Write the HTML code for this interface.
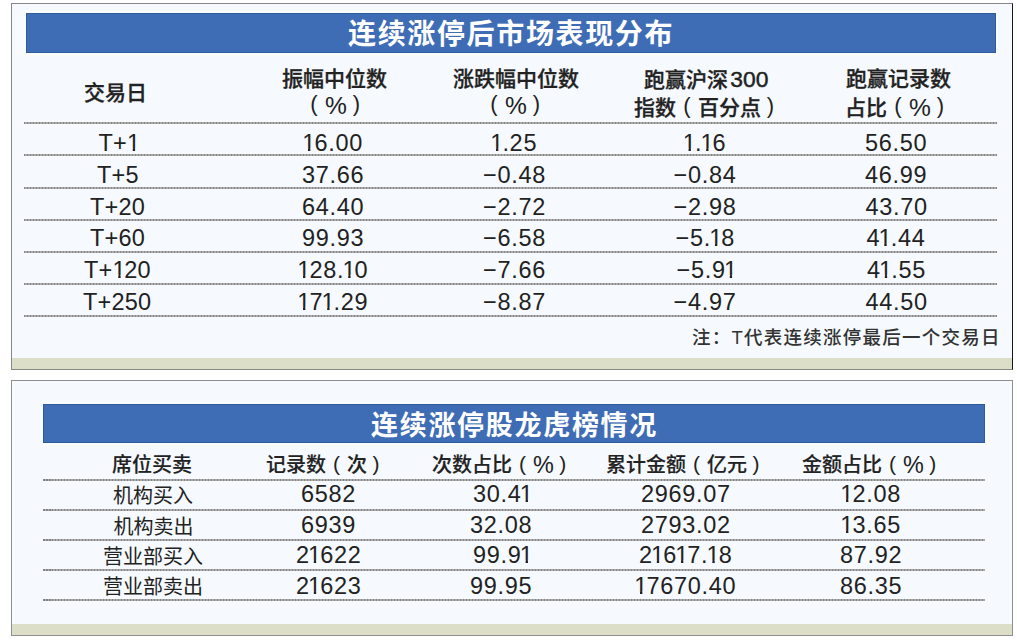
<!DOCTYPE html>
<html lang="zh-CN">
<head>
<meta charset="utf-8">
<title>连续涨停后市场表现分布</title>
<style>
*{margin:0;padding:0;box-sizing:border-box}
html,body{width:1017px;height:641px;overflow:hidden;background:#fff}
body{position:relative;text-spacing-trim:space-all;font-family:"Liberation Sans","Noto Sans CJK SC",sans-serif;color:#222}
.panel{position:absolute;left:11px;width:1002px;border:1px solid #858585;background:#f6fafe}
.p1{top:3px;height:367px;border-color:#878787;border-right-color:#151515}
.p2{top:380px;height:256px;border-color:#8e8e8e}
.band{position:absolute;left:0;right:0;bottom:0;height:11px;background:#dcdec8}
.bar{position:absolute;background:#3f6db5;border:1px solid #2f5a9c;box-shadow:0 0 3px 1px #fdfeff}
.title{position:absolute;color:#fff;font-family:"Noto Sans CJK SC",sans-serif;font-weight:700;white-space:nowrap;line-height:1}
.line{position:absolute;height:2px;background:repeating-linear-gradient(90deg,#858585 0 1.5px,#ababab 1.5px 3px)}
.t{position:absolute;white-space:nowrap;line-height:1}
.h{font-weight:500;font-size:21px;color:#222;-webkit-text-stroke:0.3px #222}
.n{font-family:"Liberation Sans",sans-serif;font-size:23.5px;letter-spacing:0.7px;color:#222}
.n0{letter-spacing:0.2px}
.n0 .one{margin-left:0}
.note{font-weight:500;font-size:18.5px;letter-spacing:1.25px;color:#333}
.h2{font-weight:500;font-size:20px;color:#222;-webkit-text-stroke:0.15px #222}
.m{font-weight:400;font-size:20px;color:#222}
.one{display:inline-block;margin-left:-0.075em;margin-right:-0.07em;clip-path:polygon(0 0,100% 0,100% 0.70em,0.347em 0.70em,0.347em 100%,0.245em 100%,0.245em 0.70em,0 0.70em)}
.lp,.rp{display:inline-block;width:1em;text-align:center;font-family:"Liberation Sans",sans-serif;font-weight:400;font-size:1.05em;line-height:0;position:relative;top:-0.07em;-webkit-text-stroke:0}
.rp{width:0.92em;padding-right:0.06em}
.pc{-webkit-text-stroke:0;font-family:"Liberation Sans",sans-serif;font-weight:400;font-size:1.17em;line-height:0;position:relative;top:0.03em}
.d3{-webkit-text-stroke:0.45px #222;font-family:"Liberation Sans",sans-serif;font-weight:400;font-size:1.09em;line-height:0;margin-left:0.1em}
</style>
</head>
<body>
<div class="panel p1"><div class="band"></div></div>
<div class="panel p2"><div class="band"></div></div>

<div class="bar" style="left:26px;top:13px;width:970px;height:40px"></div>
<div class="title" id="title1" style="left:348px;top:18px;font-size:28px;letter-spacing:1.65px">连续涨停后市场表现分布</div>

<div class="line" style="left:24px;top:122px;width:973px"></div>
<div class="line" style="left:24px;top:154px;width:973px"></div>
<div class="line" style="left:24px;top:187px;width:973px"></div>
<div class="line" style="left:24px;top:219px;width:973px"></div>
<div class="line" style="left:24px;top:251px;width:973px"></div>
<div class="line" style="left:24px;top:283px;width:973px"></div>
<div class="line" style="left:24px;top:315px;width:973px"></div>

<div class="bar" style="left:43px;top:404px;width:942px;height:39px"></div>
<div class="title" id="title2" style="left:371px;top:410px;font-size:27px;letter-spacing:1.7px">连续涨停股龙虎榜情况</div>

<div class="line" style="left:43px;top:479px;width:942px"></div>
<div class="line" style="left:43px;top:509px;width:942px"></div>
<div class="line" style="left:43px;top:539px;width:942px"></div>
<div class="line" style="left:43px;top:569px;width:942px"></div>
<div class="line" style="left:43px;top:599px;width:942px"></div>

<div id="h1" class="t h" style="left:84.0px;top:82.0px;">交易日</div>
<div id="h2a" class="t h" style="left:282.0px;top:68.0px;">振幅中位数</div>
<div id="h2b" class="t h" style="left:303.0px;top:95.0px;"><span class="lp">(</span><span class="pc">%</span><span class="rp">)</span></div>
<div id="h3a" class="t h" style="left:453.0px;top:68.0px;">涨跌幅中位数</div>
<div id="h3b" class="t h" style="left:483.0px;top:95.0px;"><span class="lp">(</span><span class="pc">%</span><span class="rp">)</span></div>
<div id="h4a" class="t h" style="left:644.0px;top:69.0px;">跑赢沪深<span class="d3">300</span></div>
<div id="h4b" class="t h" style="left:634.0px;top:97.0px;">指数<span class="lp">(</span>百分点<span class="rp">)</span></div>
<div id="h5a" class="t h" style="left:846.0px;top:68.0px;">跑赢记录数</div>
<div id="h5b" class="t h" style="left:845.0px;top:97.0px;">占比<span class="lp">(</span><span class="pc">%</span><span class="rp">)</span></div>
<div id="a00" class="t n n0" style="left:98.5px;top:132.1px;">T+<span class="one">1</span></div>
<div id="a01" class="t n" style="left:304.0px;top:132.1px;"><span class="one">1</span>6.00</div>
<div id="a02" class="t n" style="left:492.0px;top:132.1px;"><span class="one">1</span>.25</div>
<div id="a03" class="t n" style="left:684.5px;top:132.1px;"><span class="one">1</span>.<span class="one">1</span>6</div>
<div id="a04" class="t n" style="left:865.0px;top:132.1px;">56.50</div>
<div id="a10" class="t n n0" style="left:97.0px;top:163.9px;">T+5</div>
<div id="a11" class="t n" style="left:302.0px;top:163.9px;">37.66</div>
<div id="a12" class="t n" style="left:483.0px;top:163.9px;">−0.48</div>
<div id="a13" class="t n" style="left:673.5px;top:163.9px;">−0.84</div>
<div id="a14" class="t n" style="left:865.0px;top:163.9px;">46.99</div>
<div id="a20" class="t n n0" style="left:90.0px;top:196.0px;">T+20</div>
<div id="a21" class="t n" style="left:302.0px;top:196.0px;">64.40</div>
<div id="a22" class="t n" style="left:483.0px;top:196.0px;">−2.72</div>
<div id="a23" class="t n" style="left:673.5px;top:196.0px;">−2.98</div>
<div id="a24" class="t n" style="left:865.5px;top:196.0px;">43.70</div>
<div id="a30" class="t n n0" style="left:90.0px;top:227.4px;">T+60</div>
<div id="a31" class="t n" style="left:302.0px;top:227.4px;">99.93</div>
<div id="a32" class="t n" style="left:483.0px;top:227.4px;">−6.58</div>
<div id="a33" class="t n" style="left:675.5px;top:227.4px;">−5.<span class="one">1</span>8</div>
<div id="a34" class="t n" style="left:866.5px;top:227.4px;">4<span class="one">1</span>.44</div>
<div id="a40" class="t n n0" style="left:84.0px;top:258.6px;">T+<span class="one">1</span>20</div>
<div id="a41" class="t n" style="left:299.0px;top:258.6px;"><span class="one">1</span>28.<span class="one">1</span>0</div>
<div id="a42" class="t n" style="left:483.0px;top:258.6px;">−7.66</div>
<div id="a43" class="t n" style="left:676.5px;top:258.6px;">−5.9<span class="one">1</span></div>
<div id="a44" class="t n" style="left:867.0px;top:258.6px;">4<span class="one">1</span>.55</div>
<div id="a50" class="t n n0" style="left:83.0px;top:290.7px;">T+250</div>
<div id="a51" class="t n" style="left:299.0px;top:290.7px;"><span class="one">1</span>7<span class="one">1</span>.29</div>
<div id="a52" class="t n" style="left:483.0px;top:290.7px;">−8.87</div>
<div id="a53" class="t n" style="left:673.5px;top:290.7px;">−4.97</div>
<div id="a54" class="t n" style="left:865.5px;top:290.7px;">44.50</div>
<div id="note" class="t note" style="left:692.0px;top:329.0px;">注：T代表连续涨停最后一个交易日</div>
<div id="g1" class="t h2" style="left:112.0px;top:455.0px;">席位买卖</div>
<div id="g2" class="t h2" style="left:266.0px;top:455.0px;">记录数<span class="lp">(</span>次<span class="rp">)</span></div>
<div id="g3" class="t h2" style="left:432.0px;top:455.0px;">次数占比<span class="lp">(</span><span class="pc">%</span><span class="rp">)</span></div>
<div id="g4" class="t h2" style="left:606.0px;top:455.0px;">累计金额<span class="lp">(</span>亿元<span class="rp">)</span></div>
<div id="g5" class="t h2" style="left:802.0px;top:455.0px;">金额占比<span class="lp">(</span><span class="pc">%</span><span class="rp">)</span></div>
<div id="b00" class="t m" style="left:113.0px;top:486.0px;">机构买入</div>
<div id="b01" class="t n" style="left:301.0px;top:483.0px;">6582</div>
<div id="b02" class="t n" style="left:473.0px;top:483.0px;">30.4<span class="one">1</span></div>
<div id="b03" class="t n" style="left:641.0px;top:483.0px;">2969.07</div>
<div id="b04" class="t n" style="left:842.0px;top:483.0px;"><span class="one">1</span>2.08</div>
<div id="b10" class="t m" style="left:113.5px;top:517.0px;">机构卖出</div>
<div id="b11" class="t n" style="left:301.0px;top:514.0px;">6939</div>
<div id="b12" class="t n" style="left:470.0px;top:514.0px;">32.08</div>
<div id="b13" class="t n" style="left:641.0px;top:514.0px;">2793.02</div>
<div id="b14" class="t n" style="left:842.0px;top:514.0px;"><span class="one">1</span>3.65</div>
<div id="b20" class="t m" style="left:103.0px;top:547.0px;">营业部买入</div>
<div id="b21" class="t n" style="left:296.0px;top:544.0px;">2<span class="one">1</span>622</div>
<div id="b22" class="t n" style="left:473.0px;top:544.0px;">99.9<span class="one">1</span></div>
<div id="b23" class="t n" style="left:639.0px;top:544.0px;">2<span class="one">1</span>6<span class="one">1</span>7.<span class="one">1</span>8</div>
<div id="b24" class="t n" style="left:840.0px;top:544.0px;">87.92</div>
<div id="b30" class="t m" style="left:103.0px;top:577.0px;">营业部卖出</div>
<div id="b31" class="t n" style="left:296.0px;top:575.0px;">2<span class="one">1</span>623</div>
<div id="b32" class="t n" style="left:470.0px;top:575.0px;">99.95</div>
<div id="b33" class="t n" style="left:636.0px;top:575.0px;"><span class="one">1</span>7670.40</div>
<div id="b34" class="t n" style="left:840.0px;top:575.0px;">86.35</div>
</body>
</html>
